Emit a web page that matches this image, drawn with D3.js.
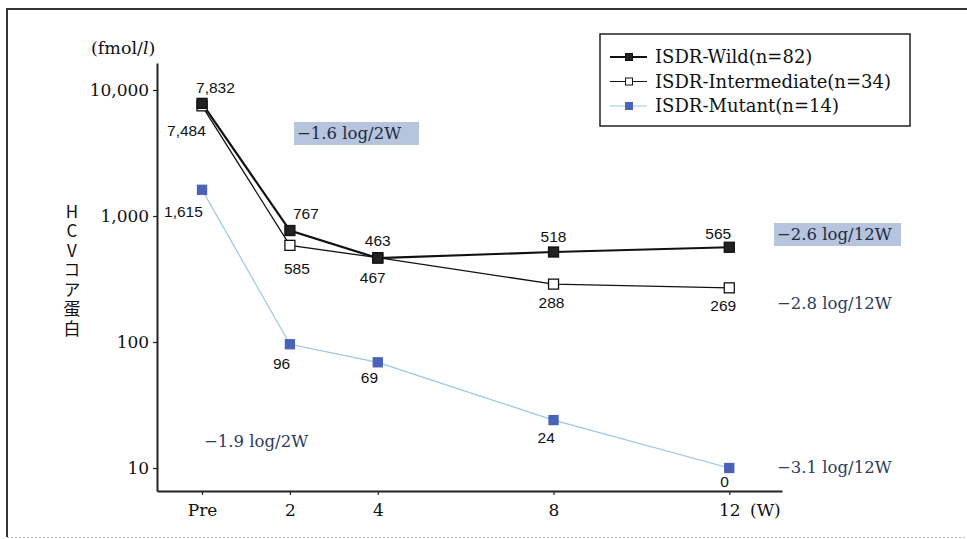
<!DOCTYPE html>
<html>
<head>
<meta charset="utf-8">
<script src="https://cdn.jsdelivr.net/npm/d3@7"></script>
<style>
  body { margin: 0; background: #fff; }
  svg { display: block; }
  .serif { font-family: "DejaVu Serif", serif; }
  .num { font-family: "Liberation Sans", Arial, sans-serif; font-size: 15.5px; fill: #111; }
</style>
</head>
<body>
<svg id="chart"></svg>
<script>
const width = 967;
const height = 539;

// data
const weeks = [0, 2, 4, 8, 12];
const weekLabels = ['Pre', '2', '4', '8', '12'];
const wild = [7832, 767, 463, 518, 565];
const intermediate = [7484, 585, 467, 288, 269];
const mutant = [1615, 96, 69, 24, 0];
const seriesNames = ['ISDR-Wild(n=82)', 'ISDR-Intermediate(n=34)', 'ISDR-Mutant(n=14)'];
const yTicks = [10, 100, 1000, 10000];
const detectionLimit = 10;

// label offsets per point: [dx, dy]
const wildLabelPos = [[-6, -10], [3, -12], [-13, -12], [-13, -10], [-24, -8]];
const interLabelPos = [[-35, 30], [-6, 29], [-18, 25], [-15, 24], [-19, 23]];
const mutantLabelPos = [[-38, 27], [-17, 25], [-17, 21], [-16, 23], [-9, 19]];

const svg = d3.select('#chart')
    .attr('width', width)
    .attr('height', height);

// frame
svg.append('path')
    .attr('d', `M ${width} 9 H 7 V 537`)
    .attr('fill', 'none')
    .attr('stroke', '#333')
    .attr('stroke-width', 2);
svg.append('line')
    .attr('x1', 7).attr('x2', width).attr('y1', 537.5).attr('y2', 537.5)
    .attr('stroke', '#bbb').attr('stroke-width', 1).attr('stroke-dasharray', '2,2');

const x = d3.scaleLinear().domain([-1.025, 13.2]).range([157, 782]);
const y = d3.scaleLog().domain([6.57, 16380]).range([491, 63]);

const xAxis = svg.append('g')
    .attr('transform', 'translate(0, 491)')
    .call(d3.axisBottom(x).tickValues(weeks).tickFormat((d, i) => weekLabels[i]).tickSize(4).tickSizeOuter(0));

const yAxis = svg.append('g')
    .attr('transform', 'translate(157, 0)')
    .call(d3.axisLeft(y).tickValues(yTicks).tickFormat(d3.format(',')).tickSize(4).tickSizeOuter(0));

[xAxis, yAxis].forEach(a => {
    a.select('.domain').attr('stroke', '#222').attr('stroke-width', 2);
    a.selectAll('.tick line').attr('stroke', '#222').attr('stroke-width', 1.2);
    a.selectAll('.tick text')
        .attr('class', 'serif')
        .attr('font-size', 17)
        .attr('fill', '#111');
});
xAxis.selectAll('.tick text').attr('dy', '1.05em');
yAxis.selectAll('.tick text').attr('dx', '-0.05em');

svg.append('text')
    .attr('class', 'serif')
    .attr('x', 750).attr('y', 516)
    .attr('font-size', 17).attr('fill', '#111')
    .text('(W)');

// units
const unit = svg.append('text')
    .attr('class', 'serif')
    .attr('x', 91).attr('y', 54)
    .attr('font-size', 17.5).attr('fill', '#111');
unit.append('tspan').text('(fmol/');
unit.append('tspan').attr('font-style', 'italic').text('l');
unit.append('tspan').text(')');

// vertical y title
svg.append('text')
    .attr('x', 72)
    .attr('y', 203)
    .attr('font-family', '"Noto Sans CJK JP", "DejaVu Serif", serif')
    .attr('font-size', 17)
    .attr('fill', '#111')
    .style('writing-mode', 'vertical-rl')
    .style('text-orientation', 'upright')
    .style('letter-spacing', '2.5px')
    .text('HCVコア蛋白');

const line = d3.line()
    .x((d, i) => x(weeks[i]))
    .y(d => y(Math.max(d, detectionLimit)));

const series = [
    { values: mutant, stroke: '#98c6e6', width: 1.2, fill: '#4a62b8', mstroke: '#4a62b8', size: 9, pos: mutantLabelPos },
    { values: intermediate, stroke: '#111', width: 1.3, fill: '#fff', mstroke: '#111', size: 10, pos: interLabelPos },
    { values: wild, stroke: '#111', width: 2.2, fill: '#222', mstroke: '#111', size: 10, pos: wildLabelPos }
];

series.forEach(s => {
    svg.append('path')
        .datum(s.values)
        .attr('fill', 'none')
        .attr('stroke', s.stroke)
        .attr('stroke-width', s.width)
        .attr('d', line);
});

series.forEach(s => {
    svg.append('g').selectAll('rect')
        .data(s.values)
        .join('rect')
        .attr('x', (d, i) => x(weeks[i]) - s.size / 2)
        .attr('y', d => y(Math.max(d, detectionLimit)) - s.size / 2)
        .attr('width', s.size)
        .attr('height', s.size)
        .attr('fill', s.fill)
        .attr('stroke', s.mstroke)
        .attr('stroke-width', 1.3);

    svg.append('g').selectAll('text')
        .data(s.values)
        .join('text')
        .attr('class', 'num')
        .attr('x', (d, i) => x(weeks[i]) + s.pos[i][0])
        .attr('y', d => y(Math.max(d, detectionLimit)))
        .attr('dy', (d, i) => s.pos[i][1])
        .text(d => d3.format(',')(d));
});

// slope annotations
const notes = [
    { text: '−1.6 log/2W', x: 297, y: 139, box: true },
    { text: '−2.6 log/12W', x: 777, y: 240, box: true },
    { text: '−2.8 log/12W', x: 777, y: 309, box: false },
    { text: '−3.1 log/12W', x: 777, y: 473, box: false },
    { text: '−1.9 log/2W', x: 204, y: 447, box: false }
];
notes.forEach(n => {
    if (n.box) {
        svg.append('rect')
            .attr('x', n.x - 3).attr('y', n.y - 17)
            .attr('width', n.text.length > 11 ? 127 : 125).attr('height', 23)
            .attr('fill', '#b6c4dd');
    }
    svg.append('text')
        .attr('class', 'serif')
        .attr('x', n.x).attr('y', n.y)
        .attr('font-size', 16.5)
        .attr('fill', n.box ? '#1f2a44' : '#2d3b62')
        .text(n.text);
});

// legend
const legend = svg.append('g');
legend.append('rect')
    .attr('x', 600).attr('y', 34)
    .attr('width', 310).attr('height', 92)
    .attr('fill', '#fff')
    .attr('stroke', '#222')
    .attr('stroke-width', 1.5);

const legendStyles = [series[2], series[1], series[0]];
seriesNames.forEach((name, i) => {
    const ly = 57 + i * 24.5;
    const s = legendStyles[i];
    legend.append('line')
        .attr('x1', 610).attr('x2', 647).attr('y1', ly).attr('y2', ly)
        .attr('stroke', s.stroke)
        .attr('stroke-width', i === 0 ? 2 : 1.2);
    legend.append('rect')
        .attr('x', 625.5).attr('y', ly - 3.5)
        .attr('width', 7).attr('height', 7)
        .attr('fill', s.fill)
        .attr('stroke', s.mstroke)
        .attr('stroke-width', 1);
    legend.append('text')
        .attr('class', 'serif')
        .attr('x', 655).attr('y', ly + 6)
        .attr('font-size', 18)
        .attr('fill', '#111')
        .text(name);
});
</script>
</body>
</html>
